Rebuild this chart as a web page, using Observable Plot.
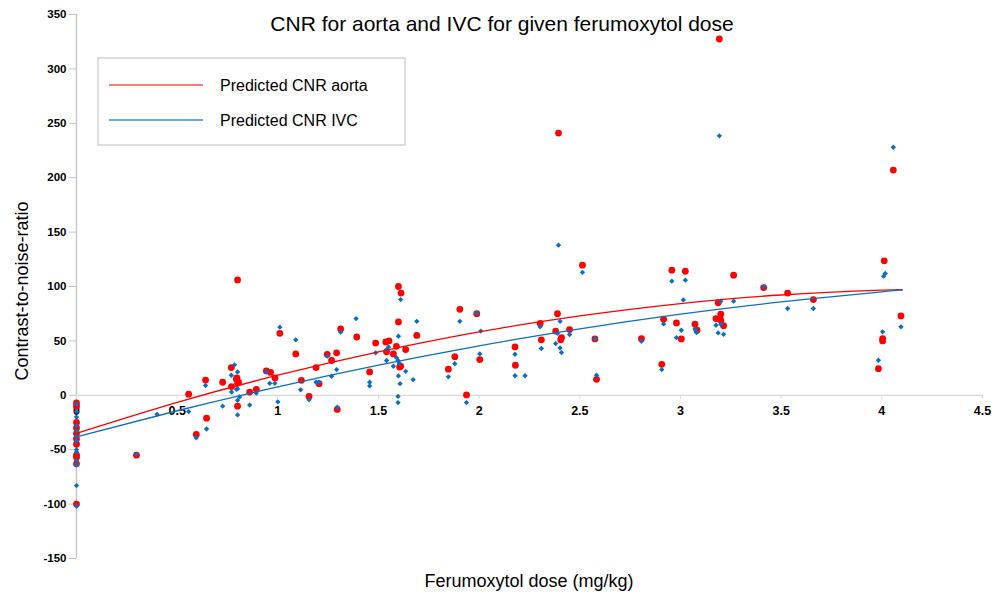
<!DOCTYPE html>
<html><head><meta charset="utf-8">
<script src="https://cdn.jsdelivr.net/npm/d3@7"></script>
<script src="https://cdn.jsdelivr.net/npm/@observablehq/plot@0.6"></script>
<style>
body{margin:0;background:#fff;font-family:"Liberation Sans",Arial,sans-serif}
#c{position:relative;width:1005px;height:594px}
</style>
</head><body><div id="c"></div>
<script>
const titleText = "CNR for aorta and IVC for given ferumoxytol dose";
const xLabel = "Ferumoxytol dose (mg/kg)";
const yLabel = "Contrast-to-noise-ratio";
const legendLabels = ["Predicted CNR aorta", "Predicted CNR IVC"];
const xTicks = [0, 0.5, 1, 1.5, 2, 2.5, 3, 3.5, 4, 4.5];
const yTicks = [-150, -100, -50, 0, 50, 100, 150, 200, 250, 300, 350];

// Measured CNR, aorta (red)
const aortaDose = [0,0,0,0,0,0,0,0,0,0,0,
  0.298,0.557,0.595,0.646,0.641,0.726,0.769,0.77,0.794,0.797,0.80,0.805,0.80,0.80,0.86,0.893,0.943,0.964,0.986,
  1.01,1.089,1.117,1.155,1.19,1.205,1.245,1.267,1.292,1.295,1.312,1.392,1.456,1.486,1.536,1.552,1.54,1.574,1.589,
  1.599,1.612,1.599,1.605,1.61,1.635,1.69,1.847,1.879,1.904,1.937,1.988,2.003,2.178,2.18,2.303,2.309,2.389,2.394,
  2.38,2.409,2.405,2.449,2.513,2.575,2.583,2.806,2.907,2.916,2.957,2.98,3.004,3.024,3.072,3.082,3.176,3.187,3.193,
  3.2,3.2,3.214,3.264,3.413,3.532,3.66,3.983,4.004,4.004,4.012,4.057,4.095];
const aortaCNR = [-7,-10,-25,-30,-35,-40,-45,-55,-57,-63,-100,
  -55,1,-36,-21,14,12,25.5,8,15,16,11,12,-10,106,3,5.5,22.4,21,16,
  57,38,13.8,-1,25.5,10.7,37.7,32,39,-13,61,53.6,21.5,48,49,50,40,38,45,
  100,94,67.4,26,26.7,42,55,24,35.5,79,0.3,75,32.8,44.5,27.6,66,51,75,241,
  59,53,51,60.4,119.6,51.8,14.7,52,28.5,70,115,66.5,51.8,114,65.3,59.8,70.5,85,327.5,
  74.5,69,64,110.4,99,94,88,24.5,52,50,123.6,207,73];

// Measured CNR, IVC (blue)
const ivcDose = [0,0,0,0,0,0,0,0,0,0,0,0,0,
  0.298,0.40,0.557,0.595,0.646,0.641,0.726,0.769,0.77,0.785,0.80,0.794,0.80,0.80,0.80,0.81,0.86,0.893,0.943,0.96,0.985,1.0,
  1.01,1.089,1.113,1.155,1.19,1.205,1.245,1.267,1.292,1.295,1.312,1.389,1.456,1.456,1.486,1.54,1.55,1.54,1.574,1.589,
  1.61,1.599,1.597,1.603,1.599,1.607,1.597,1.597,1.635,1.69,1.672,1.847,1.879,1.904,1.937,1.988,2.008,2.003,2.178,2.178,
  2.228,2.303,2.309,2.394,2.402,2.389,2.38,2.402,2.409,2.449,2.513,2.575,2.583,2.806,2.907,2.916,2.957,2.98,3.004,
  3.014,3.024,3.072,3.08,3.176,3.2,3.193,3.2,3.214,3.187,3.264,3.413,3.532,3.66,3.983,4.004,4.009,4.017,4.057,4.095];
const ivcCNR = [-8,-15,-20,-28,-33,-38,-42,-50,-52,-60,-64,-83,-102,
  -54,-17.5,-15,-39,-31,9,-10,18.4,3,28,21.5,5.5,6,-18,-4.6,-1.5,-9,2,21.5,11,11,-6,
  62.6,51,5,-4,12,12,36,17.5,23.6,-11,58,70.5,12,8.6,39,42,44.5,32,26.7,34.6,
  88,54.3,32,29.6,17.8,10.7,-1,-6.7,22,68,14.4,17,29,68,-6.7,75.5,59,38,37.7,18,
  18,63,43,138,68,57,47.5,43.5,39.3,55.8,113,52,18.4,49.7,23.6,65.6,104.9,53,59.8,
  87.7,105.8,61,57.7,64.4,86.5,238.5,65.3,56,57.3,86.5,99.6,79.8,79.8,32.2,58.3,109.5,112,228,62.9];

// Predicted curves
const predDose = [0, 0.5, 1, 1.5, 2, 2.5, 3, 3.5, 4, 4.1];
const predAorta = [-35, -6.5, 18.5, 40, 58.3, 73, 84.3, 92.2, 96.6, 97];
const predIVC = [-38.3, -14.2, 7.8, 27.7, 45.5, 61.1, 74.6, 85.8, 95.1, 96.7];

const RED = "#ff0000", BLUE = "#0a6fc2";
const aorta = aortaDose.map((d, i) => ({dose: d, cnr: aortaCNR[i]}));
const ivc = ivcDose.map((d, i) => ({dose: d, cnr: ivcCNR[i]}));
const pa = predDose.map((d, i) => ({dose: d, cnr: predAorta[i]}));
const pi = predDose.map((d, i) => ({dose: d, cnr: predIVC[i]}));

const W = 1005, H = 594, mL = 76, mR = 23, mT = 14, mB = 36;
const y0 = mT + (H - mT - mB) * (yTicks[yTicks.length-1] - 0) / (yTicks[yTicks.length-1] - yTicks[0]);

const chart = Plot.plot({
  width: W, height: H, marginLeft: mL, marginRight: mR, marginTop: mT, marginBottom: mB,
  x: {domain: [0, 4.5]},
  y: {domain: [-150, 350]},
  style: {fontFamily: "Liberation Sans, Arial, sans-serif", background: "#fff", color: "#000"},
  marks: [
    Plot.ruleX([0], {stroke: "#c4c4c4", strokeWidth: 1.3}),
    Plot.ruleY([0], {stroke: "#d9d9d9", strokeWidth: 1.3}),
    Plot.axisY({ticks: yTicks, tickSize: 7, tickPadding: 3, fontSize: 11.5, fontWeight: "bold", label: null, stroke: "#c4c4c4", fill: "#000", tickFormat: d => String(d)}),
    Plot.axisX({ticks: xTicks, anchor: "bottom", dy: -(H - mB - y0), tickSize: 4, tickPadding: 7, fontSize: 12.5, fontWeight: "bold", label: null, stroke: "#d9d9d9", fill: "#000", tickFormat: d => String(d)}),
    Plot.dot(aorta, {x: "dose", y: "cnr", r: 3.4, fill: RED}),
    Plot.dot(ivc, {x: "dose", y: "cnr", r: 2.4, symbol: "diamond2", fill: BLUE}),
    Plot.line(pa, {x: "dose", y: "cnr", stroke: RED, strokeWidth: 1.3, curve: "natural"}),
    Plot.line(pi, {x: "dose", y: "cnr", stroke: BLUE, strokeWidth: 1.3, curve: "natural"})
  ]
});
document.getElementById("c").appendChild(chart);

const svg = d3.select(chart);
const ff = "Liberation Sans, Arial, sans-serif";
svg.append("text").attr("x", 502).attr("y", 31).attr("text-anchor", "middle")
  .attr("font-family", ff).attr("font-size", 21).attr("fill", "#000").text(titleText);
svg.append("text").attr("x", 529).attr("y", 587).attr("text-anchor", "middle")
  .attr("font-family", ff).attr("font-size", 18).attr("fill", "#000").text(xLabel);
svg.append("text").attr("transform", "translate(28,291) rotate(-90)").attr("text-anchor", "middle")
  .attr("font-family", ff).attr("font-size", 18).attr("fill", "#000").text(yLabel);
const lg = svg.append("g");
lg.append("rect").attr("x", 98).attr("y", 58).attr("width", 307).attr("height", 87)
  .attr("fill", "#fff").attr("stroke", "#d4d4d4").attr("stroke-width", 1.5);
[["#ff4d4d", 85, 91], ["#2f8fe0", 120, 126]].forEach(([c, ly, ty], i) => {
  lg.append("line").attr("x1", 109).attr("x2", 203).attr("y1", ly).attr("y2", ly)
    .attr("stroke", c).attr("stroke-width", 1.3);
  lg.append("text").attr("x", 220).attr("y", ty).attr("text-anchor", "start").attr("font-family", ff).attr("font-size", 16)
    .attr("fill", "#000").text(legendLabels[i]);
});
</script></body></html>
